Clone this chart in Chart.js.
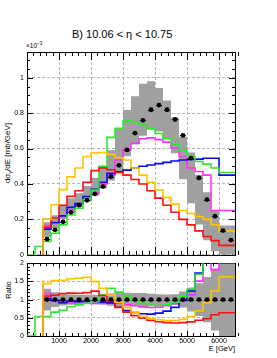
<!DOCTYPE html>
<html>
  <head>
    <meta charset="UTF-8">
    <title>B) 10.06 &lt; eta &lt; 10.75</title>
    <script src="https://cdn.jsdelivr.net/npm/chart.js@4"></script>
    <style>
      body { margin: 0; width: 277px; height: 358px; position: relative; overflow: hidden; background: #fff;
             font-family: "Liberation Sans", Arial, sans-serif; color: #000; }
      canvas { position: absolute; left: 0; }
      .txt { position: absolute; white-space: nowrap; }
      .rot { transform: translate(-50%, -50%) rotate(-90deg); }
      sub, sup { font-size: 70%; }
    </style>
  </head>
  <body>
    <div class="txt" style="left:72px; top:28px; font-size:11px;">B) 10.06 &lt; &eta; &lt; 10.75</div>
    <div class="txt" style="left:26px; top:41px; font-size:6.5px;">&times;10<sup>&minus;3</sup></div>
    <div class="txt rot" style="left:8px; top:153px; font-size:8px;">d&sigma;<sub>&gamma;</sub>/dE [mb/GeV]</div>
    <div class="txt rot" style="left:8px; top:290px; font-size:7.5px;">Ratio</div>
    <div class="txt" style="right:42px; top:344px; font-size:7.5px;">E [GeV]</div>

    <canvas id="mainChart" width="277" height="262" style="top:0"></canvas>
    <canvas id="ratioChart" width="277" height="102" style="top:256px"></canvas>

    <script>
      // bin centres in GeV, bins are 250 GeV wide
      const energy = [625, 875, 1125, 1375, 1625, 1875, 2125, 2375, 2625, 2875, 3125, 3375,
                      3625, 3875, 4125, 4375, 4625, 4875, 5125, 5375, 5625, 5875, 6125, 6375];
      const binHalfWidth = 125;

      // measured spectrum (x 1e-3 mb/GeV) and its relative uncertainty band
      const dataVals = [0.088, 0.141, 0.186, 0.240, 0.280, 0.308, 0.344, 0.385, 0.441, 0.505, 0.592, 0.687,
                        0.759, 0.819, 0.845, 0.819, 0.764, 0.674, 0.546, 0.434, 0.312, 0.218, 0.137, 0.083];
      const dataRelErr = [0.47, 0.30, 0.20, 0.16, 0.14, 0.13, 0.13, 0.13, 0.14, 0.17, 0.20, 0.19,
                          0.18, 0.18, 0.16, 0.15, 0.14, 0.15, 0.22, 0.33, 0.45, 0.62, 0.85, 1.00];

      // model predictions, same binning
      const orangeVals = [0.134, 0.203, 0.283, 0.368, 0.440, 0.490, 0.555, 0.575, 0.578, 0.567, 0.548, 0.535,
                          0.490, 0.450, 0.410, 0.366, 0.324, 0.286, 0.250, 0.233, 0.216, 0.200, 0.170, 0.135];
      const redVals = [0.095, 0.155, 0.208, 0.280, 0.330, 0.362, 0.410, 0.475, 0.490, 0.480, 0.465, 0.450,
                       0.425, 0.400, 0.362, 0.320, 0.280, 0.240, 0.200, 0.169, 0.135, 0.103, 0.080, 0.053];
      const greenVals = [0.047, 0.075, 0.122, 0.169, 0.225, 0.263, 0.310, 0.366, 0.500, 0.663, 0.714, 0.755,
                         0.750, 0.735, 0.710, 0.685, 0.655, 0.625, 0.590, 0.555, 0.527, 0.512, 0.490, 0.465];
      const blueVals = [0.100, 0.145, 0.182, 0.220, 0.268, 0.290, 0.329, 0.370, 0.410, 0.460, 0.468, 0.478,
                        0.490, 0.500, 0.507, 0.515, 0.522, 0.530, 0.535, 0.538, 0.540, 0.545, 0.545, 0.450];
      const magentaVals = [0.123, 0.165, 0.178, 0.216, 0.254, 0.285, 0.310, 0.345, 0.400, 0.450, 0.535, 0.595,
                           0.630, 0.655, 0.660, 0.650, 0.636, 0.603, 0.555, 0.490, 0.470, 0.450, 0.250, 0.250];
      // the green histogram also has two empty bins below 500 GeV
      const greenLowEnergy = [125, 375];
      const greenLowVals = [0, 0];

      const xTicks = [1000, 2000, 3000, 4000, 5000, 6000];
      const mainYTicks = [0, 0.2, 0.4, 0.6, 0.8, 1.0];
      const ratioYTicks = [0, 0.5, 1, 1.5, 2];

      Chart.defaults.font.family = '"Liberation Sans", Arial, sans-serif';
      Chart.defaults.color = '#000';

      const models = [
        { label: 'orange', vals: orangeVals, color: '#ffc400' },
        { label: 'red', vals: redVals, color: '#ff1010' },
        { label: 'green', vals: greenVals, color: '#2ee82e' },
        { label: 'blue', vals: blueVals, color: '#0a0af0' },
        { label: 'magenta', vals: magentaVals, color: '#ff30ff' },
      ];

      // step points: one per left bin edge plus the last right edge
      function stepPoints(centres, vals) {
        const pts = centres.map((c, i) => ({ x: c - binHalfWidth, y: vals[i] }));
        pts.push({ x: centres[centres.length - 1] + binHalfWidth, y: vals[vals.length - 1] });
        return pts;
      }

      // histogram outline starts from zero on the first edge
      function histPoints(centres, vals) {
        return [{ x: centres[0] - binHalfWidth, y: 0 }].concat(stepPoints(centres, vals));
      }

      function lineDataset(m, centres, vals) {
        return {
          type: 'line', label: m.label, data: histPoints(centres, vals),
          borderColor: m.color, borderWidth: 1.6, stepped: 'after',
          pointRadius: 0, fill: false, order: 1
        };
      }

      // uncertainty band: upper edge filled down to the lower edge
      function bandDatasets(lo, hi) {
        return [
          { type: 'line', label: 'band up', data: stepPoints(energy, hi), stepped: 'after',
            borderWidth: 0, pointRadius: 0, backgroundColor: '#a0a0a0', fill: '+1', order: 2 },
          { type: 'line', label: 'band down', data: stepPoints(energy, lo), stepped: 'after',
            borderWidth: 0, pointRadius: 0, fill: false, order: 3 }
        ];
      }

      // frame with inside tick marks on all four sides
      const frameTicks = {
        id: 'frameTicks',
        beforeDatasetsDraw(chart, args, o) {
          const { ctx, chartArea: a, scales: { x, y } } = chart;
          ctx.save();
          ctx.strokeStyle = '#000';
          ctx.lineWidth = 1;
          ctx.beginPath();
          const nx = Math.round(o.xMax / o.xMinor);
          for (let i = 0; i <= nx; i++) {
            const v = i * o.xMinor;
            const px = Math.round(x.getPixelForValue(v)) + 0.5;
            const len = (v % o.xMajor === 0) ? o.xMajorLen : o.xMinorLen;
            ctx.moveTo(px, a.bottom); ctx.lineTo(px, a.bottom - len);
            ctx.moveTo(px, a.top); ctx.lineTo(px, a.top + len);
          }
          const ny = Math.floor(o.yMax / o.yMinor + 1e-6);
          for (let i = 0; i <= ny; i++) {
            const py = Math.round(y.getPixelForValue(i * o.yMinor)) + 0.5;
            const len = (i % o.yMajorEvery === 0) ? o.yMajorLen : o.yMinorLen;
            ctx.moveTo(a.left, py); ctx.lineTo(a.left + len, py);
            ctx.moveTo(a.right, py); ctx.lineTo(a.right - len, py);
          }
          ctx.stroke();
          ctx.strokeRect(Math.round(a.left) + 0.5, Math.round(a.top) + 0.5,
                         Math.round(a.right - a.left), Math.round(a.bottom - a.top));
          ctx.restore();
        }
      };

      // horizontal bars on the data points, drawn just below the markers
      const xErrorBars = {
        id: 'xErrorBars',
        beforeDatasetDraw(chart, args) {
          const ds = chart.data.datasets[args.index];
          if (!ds.xErr) return;
          const { ctx, scales: { x, y } } = chart;
          ctx.save();
          ctx.strokeStyle = '#000';
          ctx.lineWidth = 1;
          ctx.beginPath();
          ds.data.forEach(p => {
            const py = Math.round(y.getPixelForValue(p.y)) + 0.5;
            ctx.moveTo(x.getPixelForValue(p.x - ds.xErr), py);
            ctx.lineTo(x.getPixelForValue(p.x + ds.xErr), py);
          });
          ctx.stroke();
          ctx.restore();
        }
      };

      function fmt(v) { return String(+v.toFixed(2)); }

      function xScale(showLabels, height) {
        return {
          type: 'linear', min: 0, max: 6500,
          afterBuildTicks: s => { s.ticks = xTicks.map(v => ({ value: v })); },
          ticks: { display: showLabels, font: { size: 7 }, padding: 1, maxRotation: 0, callback: v => String(v) },
          grid: { color: '#b4b4b4', lineWidth: 1, drawTicks: false },
          border: { display: false, dash: [3, 2] },
          afterFit: s => { s.height = height; }
        };
      }

      function yScale(min, max, ticks) {
        return {
          min: min, max: max,
          afterBuildTicks: s => { s.ticks = ticks.map(v => ({ value: v })); },
          ticks: { font: { size: 7 }, padding: 3, callback: v => fmt(v) },
          grid: { color: '#b4b4b4', lineWidth: 1, drawTicks: false },
          border: { display: false, dash: [3, 2] },
          afterFit: s => { s.width = 27; }
        };
      }

      // ---- main panel ----
      const pointsMain = energy.map((e, i) => ({ x: e, y: dataVals[i] }));
      const mainDatasets = [
        { type: 'scatter', label: 'data', data: pointsMain, xErr: 90,
          backgroundColor: '#000', borderColor: '#000', pointRadius: 2.4, pointBorderWidth: 0, order: 0 },
      ];
      models.forEach(m => {
        if (m.label === 'green') {
          mainDatasets.push(lineDataset(m, greenLowEnergy.concat(energy), greenLowVals.concat(m.vals)));
        } else {
          mainDatasets.push(lineDataset(m, energy, m.vals));
        }
      });
      bandDatasets(dataVals.map((v, i) => v * (1 - dataRelErr[i])),
                   dataVals.map((v, i) => v * (1 + dataRelErr[i]))).forEach(d => mainDatasets.push(d));

      new Chart(document.getElementById('mainChart'), {
        type: 'line',
        data: { datasets: mainDatasets },
        options: {
          responsive: false, animation: false,
          layout: { padding: { left: 0, right: 42, top: 52, bottom: 7 } },
          plugins: {
            legend: { display: false }, tooltip: { enabled: false },
            frameTicks: { xMax: 6500, xMinor: 200, xMajor: 1000, xMajorLen: 8, xMinorLen: 4,
                          yMax: 1.145, yMinor: 0.05, yMajorEvery: 4, yMajorLen: 6, yMinorLen: 3 }
          },
          scales: { x: xScale(false, 0), y: yScale(0, 1.145, mainYTicks) }
        },
        plugins: [frameTicks, xErrorBars]
      });

      // ---- ratio panel: everything divided by the data ----
      const pointsRatio = energy.map(e => ({ x: e, y: 1 }));
      const ratioDatasets = [
        { type: 'scatter', label: 'data', data: pointsRatio, xErr: 90,
          backgroundColor: '#000', borderColor: '#000', pointRadius: 2.4, pointBorderWidth: 0, order: 0 },
      ];
      models.forEach(m => {
        const r = m.vals.map((v, i) => v / dataVals[i]);
        if (m.label === 'green') {
          ratioDatasets.push(lineDataset(m, greenLowEnergy.concat(energy), greenLowVals.concat(r)));
        } else {
          ratioDatasets.push(lineDataset(m, energy, r));
        }
      });
      bandDatasets(dataRelErr.map(e => 1 - e), dataRelErr.map(e => 1 + e)).forEach(d => ratioDatasets.push(d));

      new Chart(document.getElementById('ratioChart'), {
        type: 'line',
        data: { datasets: ratioDatasets },
        options: {
          responsive: false, animation: false,
          layout: { padding: { left: 0, right: 42, top: 5, bottom: 10 } },
          plugins: {
            legend: { display: false }, tooltip: { enabled: false },
            frameTicks: { xMax: 6500, xMinor: 200, xMajor: 1000, xMajorLen: 5, xMinorLen: 3,
                          yMax: 2, yMinor: 0.1, yMajorEvery: 5, yMajorLen: 6, yMinorLen: 3 }
          },
          scales: { x: xScale(true, 12), y: yScale(0, 2, ratioYTicks) }
        },
        plugins: [frameTicks, xErrorBars]
      });
    </script>
  </body>
</html>
